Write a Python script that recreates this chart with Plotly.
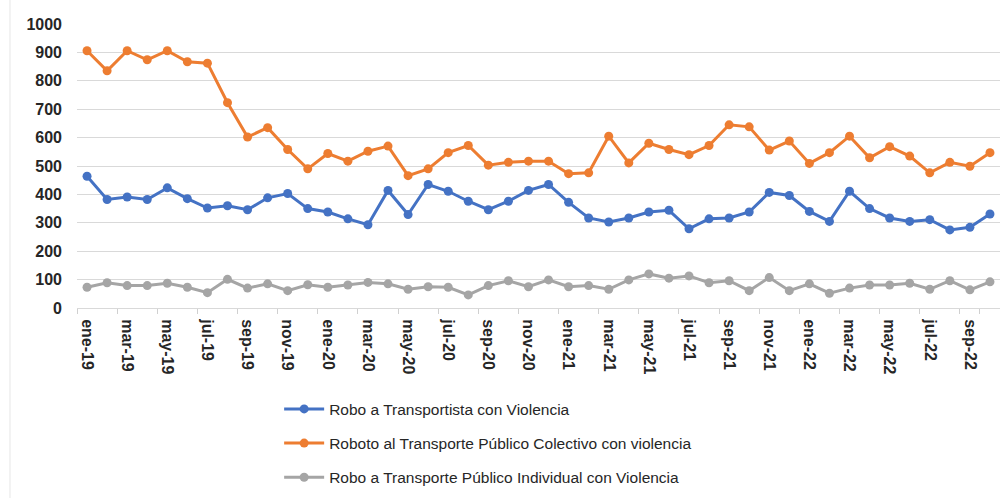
import plotly.graph_objects as go

months = [
    "ene-19", "feb-19", "mar-19", "abr-19", "may-19", "jun-19", "jul-19", "ago-19", "sep-19", "oct-19", "nov-19", "dic-19",
    "ene-20", "feb-20", "mar-20", "abr-20", "may-20", "jun-20", "jul-20", "ago-20", "sep-20", "oct-20", "nov-20", "dic-20",
    "ene-21", "feb-21", "mar-21", "abr-21", "may-21", "jun-21", "jul-21", "ago-21", "sep-21", "oct-21", "nov-21", "dic-21",
    "ene-22", "feb-22", "mar-22", "abr-22", "may-22", "jun-22", "jul-22", "ago-22", "sep-22", "oct-22",
]

transportista = [
    464, 382, 391, 382, 423, 385, 352, 360, 346, 388, 403, 350,
    338, 314, 293, 414, 329, 435, 411, 376, 346, 376, 414, 435,
    372, 317, 303, 317, 338, 344, 279, 314, 317, 338, 407, 396,
    340, 305, 411, 350, 317, 305, 311, 275, 284, 331,
]

colectivo = [
    906, 835, 906, 874, 906, 867, 862, 723, 602, 635, 558, 490,
    544, 517, 552, 570, 466, 490, 547, 572, 503, 513, 517, 517,
    473, 476, 605, 511, 580, 558, 540, 572, 645, 638, 556, 588,
    509, 547, 605, 529, 568, 535, 476, 513, 499, 547,
]

individual = [
    73, 89, 79, 79, 87, 73, 54, 101, 70, 85, 61, 82,
    73, 81, 90, 85, 66, 75, 73, 46, 79, 96, 75, 99,
    75, 79, 66, 99, 120, 105, 113, 89, 96, 61, 107, 61,
    85, 52, 70, 81, 81, 87, 66, 96, 64, 92,
]

series = [
    ("Robo a Transportista con Violencia", transportista, "#4472C4"),
    ("Roboto al Transporte Público Colectivo con violencia", colectivo, "#ED7D31"),
    ("Robo a Transporte Público Individual con Violencia", individual, "#A5A5A5"),
]

FONT = "Liberation Sans, Arial, sans-serif"

fig = go.Figure()
for i, (name, vals, color) in enumerate(series):
    fig.add_trace(go.Scatter(
        x=months, y=vals, name=name, mode="lines+markers",
        line=dict(color=color, width=3),
        marker=dict(color=color, size=9),
        legendgroup=f"g{i}",
    ))

fig.update_layout(
    width=1000, height=498,
    margin=dict(l=77, r=0, t=24, b=190),
    paper_bgcolor="white", plot_bgcolor="white",
    font=dict(family=FONT, color="#262626"),
    showlegend=True,
    legend=dict(
        x=0.219, y=-0.297, xanchor="left", yanchor="top",
        orientation="v", tracegroupgap=11, itemwidth=40,
        font=dict(family=FONT, size=15.5, color="#262626"),
        bgcolor="rgba(0,0,0,0)",
    ),
    xaxis=dict(
        type="category", range=[-0.5, 45.5],
        tickmode="array", tickvals=months[::2], ticktext=months[::2],
        tickangle=90, tickson="boundaries", ticks="outside", ticklen=5,
        tickcolor="#d0d0d0", ticklabelstandoff=7,
        showgrid=False, showline=True, linecolor="#d9d9d9", linewidth=1,
        tickfont=dict(family=FONT, size=16, color="#262626", weight="bold"),
        zeroline=False,
    ),
    yaxis=dict(
        range=[0, 1000], dtick=100, tick0=0,
        showgrid=True, gridcolor="#d9d9d9", gridwidth=1,
        zeroline=False, showline=False, ticks="",
        ticklabelstandoff=14,
        tickfont=dict(family=FONT, size=16, color="#262626", weight="bold"),
    ),
)

fig.add_shape(type="line", xref="paper", yref="paper",
              x0=-0.0726, x1=-0.0726, y0=-0.7, y1=1.1,
              line=dict(color="#e6e6e6", width=1))

fig.write_html("out.html", config={"displayModeBar": False},
               post_script="document.body.style.margin='0';")
